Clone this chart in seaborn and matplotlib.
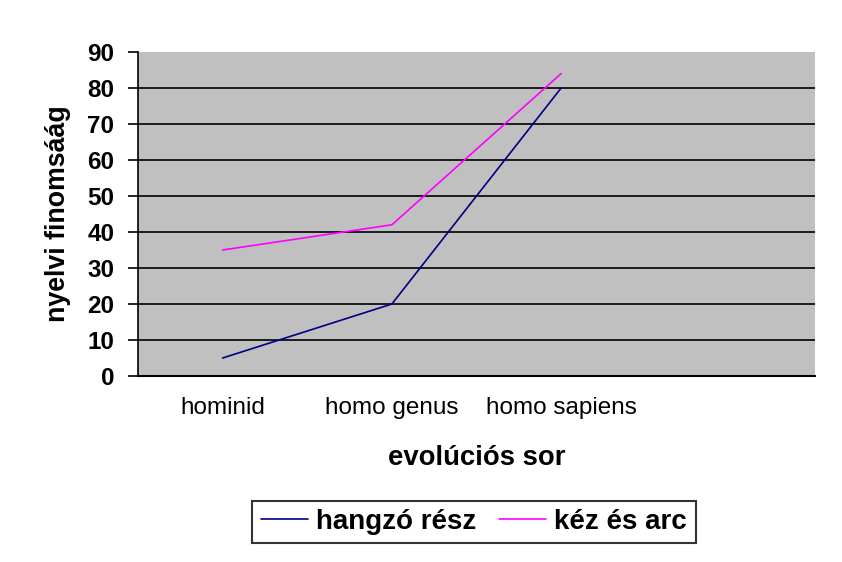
import pandas as pd
import seaborn as sns
import matplotlib.pyplot as plt

categories = ["hominid", "homo genus", "homo sapiens"]
hangzo = [5, 20, 80]
kez_arc = [35, 42, 84]
series_names = ["hangzó rész", "kéz és arc"]

df = pd.DataFrame({
    "pos": list(range(len(categories))) * 2,
    "value": hangzo + kez_arc,
    "series": [series_names[0]] * 3 + [series_names[1]] * 3,
})

sns.set_style("white")
plt.rcParams['font.family'] = ['Liberation Sans', 'DejaVu Sans']
plt.rcParams['text.color'] = 'black'
plt.rcParams['xtick.color'] = 'black'
plt.rcParams['ytick.color'] = 'black'
plt.rcParams['axes.labelcolor'] = 'black'

fig = plt.figure(figsize=(8.42, 5.62), dpi=100)
ax = fig.add_axes([138/842, 1 - 376/562, (815 - 138)/842, (376 - 52)/562])
ax.set_facecolor("#c0c0c0")

sns.lineplot(data=df, x="pos", y="value", hue="series",
             palette=["#000080", "#ff00ff"], linewidth=1.2, ax=ax, legend=True)

ax.set_xlim(-0.5, 3.5)
ax.set_ylim(0, 90)
ax.set_yticks(range(0, 91, 10))
ax.set_xticks(range(len(categories)))
ax.set_xticklabels(categories, fontsize=17.5)
for t in ax.get_yticklabels():
    t.set_fontweight("bold")
    t.set_fontsize(17.5)
ax.tick_params(axis="y", length=7, width=1.2, pad=10, color="black", left=True)
ax.tick_params(axis="x", length=0, pad=15)

for y in range(10, 90, 10):
    ax.axhline(y, color="black", linewidth=1.2, zorder=1)

for s in ["top", "right"]:
    ax.spines[s].set_visible(False)
ax.spines["left"].set_color("black")
ax.spines["bottom"].set_color("black")
ax.spines["left"].set_linewidth(1.2)
ax.spines["bottom"].set_linewidth(1.5)

ax.set_xlabel("evolúciós sor", fontsize=19.8, fontweight="bold", labelpad=19)
ax.set_ylabel("nyelvi finomsáág", fontsize=19.3, fontweight="bold", labelpad=12)

handles, labels = ax.get_legend_handles_labels()
ax.legend_.remove()
leg = fig.legend(handles, labels, loc="center", bbox_to_anchor=(474/842, 1 - 522/562),
                 ncol=2, frameon=True, fancybox=False, edgecolor="black",
                 prop={"weight": "bold", "size": 20}, handlelength=1.7,
                 handletextpad=0.3, columnspacing=0.8, borderpad=0.3,
                 borderaxespad=0)
leg.get_frame().set_linewidth(1.5)

fig.savefig("out.png", dpi=100)
